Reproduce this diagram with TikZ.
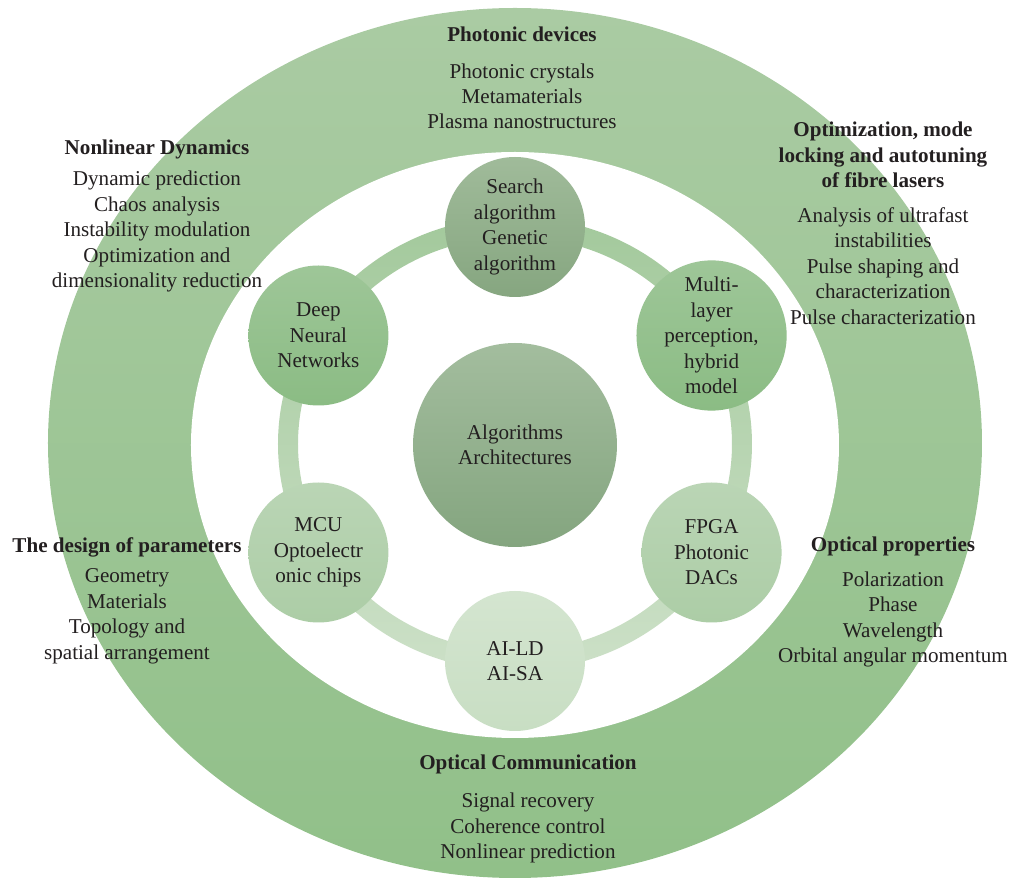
\documentclass[tikz,border=0pt]{standalone}
\usepackage{fontspec}
\setmainfont{Liberation Serif}

\definecolor{txt}{RGB}{35,31,32}
\definecolor{bandtop}{RGB}{170,203,163}
\definecolor{bandbot}{RGB}{145,192,137}
\definecolor{linktop}{RGB}{163,201,156}
\definecolor{linkbot}{RGB}{204,224,199}
\definecolor{coretop}{RGB}{163,189,158}
\definecolor{corebot}{RGB}{132,165,127}
\definecolor{srchtop}{RGB}{160,187,154}
\definecolor{srchbot}{RGB}{134,166,128}
\definecolor{midtop}{RGB}{158,198,152}
\definecolor{midbot}{RGB}{139,188,132}
\definecolor{lowtop}{RGB}{186,213,181}
\definecolor{lowbot}{RGB}{172,205,166}
\definecolor{aitop}{RGB}{212,229,208}
\definecolor{aibot}{RGB}{200,222,195}

\begin{document}
\begin{tikzpicture}[font=\fontsize{12}{14.5}\selectfont,
  topic/.style={align=center, inner sep=0pt, anchor=north, text=txt},
  hub/.style={circle, minimum size=2.8cm, inner sep=0pt, align=center, text=txt},
  core/.style={hub, minimum size=4.08cm}]
  \useasboundingbox (-10.3,-8.76) rectangle (9.98,8.88);

  % outer band with the white field inside
  \shade[top color=bandtop, bottom color=bandbot] (0,0.02) ellipse (9.34 and 8.7);
  \fill[white] (0,-0.02) ellipse (6.48 and 5.86);

  % ring through the six circles
  \shade[top color=linktop, bottom color=linkbot, even odd rule]
    (0,0) ellipse (4.74 and 4.54) (0,0) ellipse (4.34 and 4.14);

  \node[core, top color=coretop, bottom color=corebot] (core) at (0,-0.02) {Algorithms\\Architectures};
  \node[hub, top color=srchtop, bottom color=srchbot] (search) at (90:4.54 and 4.34) {Search\\algorithm\\Genetic\\algorithm};
  \node[hub, top color=midtop, bottom color=midbot] (mlp) at (30:4.54 and 4.34) {Multi-\\layer\\perception,\\hybrid\\model};
  \node[hub, top color=lowtop, bottom color=lowbot] (fpga) at (-30:4.54 and 4.34) {FPGA\\Photonic\\DACs};
  \node[hub, top color=aitop, bottom color=aibot] (aild) at (-90:4.54 and 4.34) {AI-LD\\AI-SA};
  \node[hub, top color=lowtop, bottom color=lowbot] (mcu) at (210:4.54 and 4.34) {MCU\\Optoelectr\\onic chips};
  \node[hub, top color=midtop, bottom color=midbot] (dnn) at (150:4.54 and 4.34) {Deep\\Neural\\Networks};

  % application fields around the band
  \node[topic] (devices) at (0.14,8.34) {\textbf{Photonic devices}\\[6pt]Photonic crystals\\Metamaterials\\Plasma nanostructures};
  \node[topic] (dynamics) at (-7.16,6.08) {\textbf{Nonlinear Dynamics}\\[3pt]Dynamic prediction\\Chaos analysis\\Instability modulation\\Optimization and\\dimensionality reduction};
  \node[topic] (lasers) at (7.36,6.44) {\textbf{Optimization, mode}\\\textbf{locking and autotuning}\\\textbf{of fibre lasers}\\[5pt]Analysis of ultrafast\\instabilities\\Pulse shaping and\\characterization\\Pulse characterization};
  \node[topic] (design) at (-7.76,-1.86) {\textbf{The design of parameters}\\[3pt]Geometry\\Materials\\Topology and\\spatial arrangement};
  \node[topic] (optprop) at (7.56,-1.86) {\textbf{Optical properties}\\[5pt]Polarization\\Phase\\Wavelength\\Orbital angular momentum};
  \node[topic] (comm) at (0.26,-6.22) {\textbf{Optical Communication}\\[7pt]Signal recovery\\Coherence control\\Nonlinear prediction};
\end{tikzpicture}
\end{document}
